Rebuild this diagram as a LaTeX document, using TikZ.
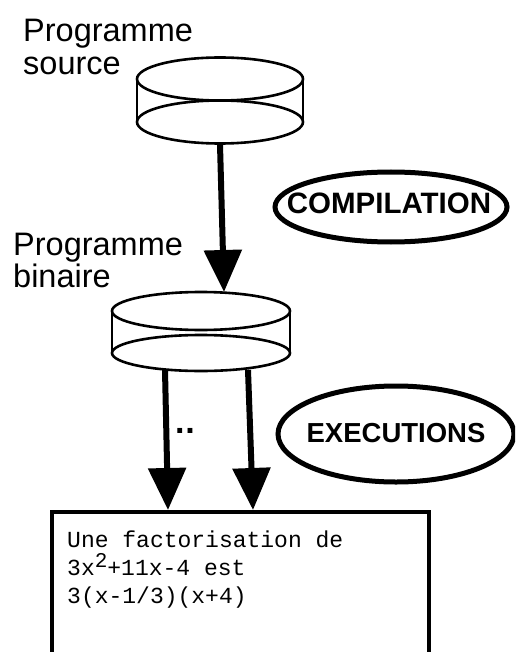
\documentclass[tikz,border=0pt]{standalone}
\usepackage{fontspec}
\usetikzlibrary{shapes.geometric,arrows.meta,calc}
\newfontfamily\labelfont{Liberation Sans}
\newfontfamily\codefont{Liberation Mono}
\tikzset{
  disk/.style={ellipse, draw, line width=2.6pt, inner sep=0pt, outer sep=0pt, fill=none},
  bigarrow/.style={line width=6pt, -{Triangle[length=42pt,width=37pt]}},
  label/.style={anchor=base west, inner sep=0pt, font=\labelfont\fontsize{32.5}{33}\selectfont},
  stage/.style={ellipse, draw, line width=5pt, inner sep=0pt, outer sep=0pt},
  stagetext/.style={inner sep=0pt, font=\labelfont\bfseries},
  code/.style={anchor=base west, inner sep=0pt, font=\codefont\fontsize{23}{28}\selectfont},
  outbox/.style={draw, line width=4pt, inner sep=0pt, outer sep=0pt, anchor=north west}
}
\begin{document}
\begin{tikzpicture}[x=1pt, y=-1pt]
  \useasboundingbox (0,0) rectangle (515,652);
  \clip (0,0) rectangle (515,652);

  % source program: an open disk
  \node[disk, minimum width=166pt, minimum height=43pt] (srcTop) at (220,79) {};
  \node[disk, minimum width=166pt, minimum height=43pt] (srcBot) at (220,122) {};
  \draw[line width=2.6pt] (srcTop.west) -- (srcBot.west);
  \draw[line width=2.6pt] (srcTop.east) -- (srcBot.east);
  \node[label] (srcL1) at (23,42) {Programme};
  \node[label] (srcL2) at (23,75) {source};

  % binary program: an open disk
  \node[disk, minimum width=178pt, minimum height=38pt] (binTop) at (201,311) {};
  \node[disk, minimum width=178pt, minimum height=36pt] (binBot) at (201,353) {};
  \draw[line width=2.6pt] (binTop.west) -- (binBot.west);
  \draw[line width=2.6pt] (binTop.east) -- (binBot.east);
  \node[label] (binL1) at (13,255) {Programme};
  \node[label] (binL2) at (13,287) {binaire};

  % stages
  \node[stage, minimum width=232pt, minimum height=70pt] (comp) at (391,207) {};
  \node[stagetext, font=\labelfont\bfseries\fontsize{29.5}{30}\selectfont]
    (compT) at ($(comp.center)+(-2,-4)$) {COMPILATION};
  \node[stage, minimum width=236pt, minimum height=96pt] (exec) at (396,434) {};
  \node[stagetext, font=\labelfont\bfseries\fontsize{27.5}{30}\selectfont]
    (execT) at ($(exec.center)+(0,-1)$) {EXECUTIONS};

  % output window
  \node[outbox, minimum width=377pt, minimum height=200pt] (out) at (52,512) {};
  \node[code] (t1) at (67,547) {Une factorisation de};
  \node[code] (t2) at (67,575) {3x\raisebox{8pt}{\fontsize{21}{21}\selectfont 2}+11x-4 est};
  \node[code] (t3) at (67,603) {3(x-1/3)(x+4)};

  % arrows
  \draw[bigarrow] ($(srcBot.south)+(0,1)$) -- ($(binTop.north)+(23,0)$);
  \draw[bigarrow] ($(binBot.south)+(-36,-1)$) -- ($(out.north west)+(116,-2)$);
  \draw[bigarrow] ($(binBot.south)+(47,-1)$) -- ($(out.north west)+(201,-2)$);
  \node[anchor=base, inner sep=0pt, font=\labelfont\bfseries\fontsize{34}{34}\selectfont]
    (dots) at (185,433) {.\kern1pt.};
\end{tikzpicture}
\end{document}
